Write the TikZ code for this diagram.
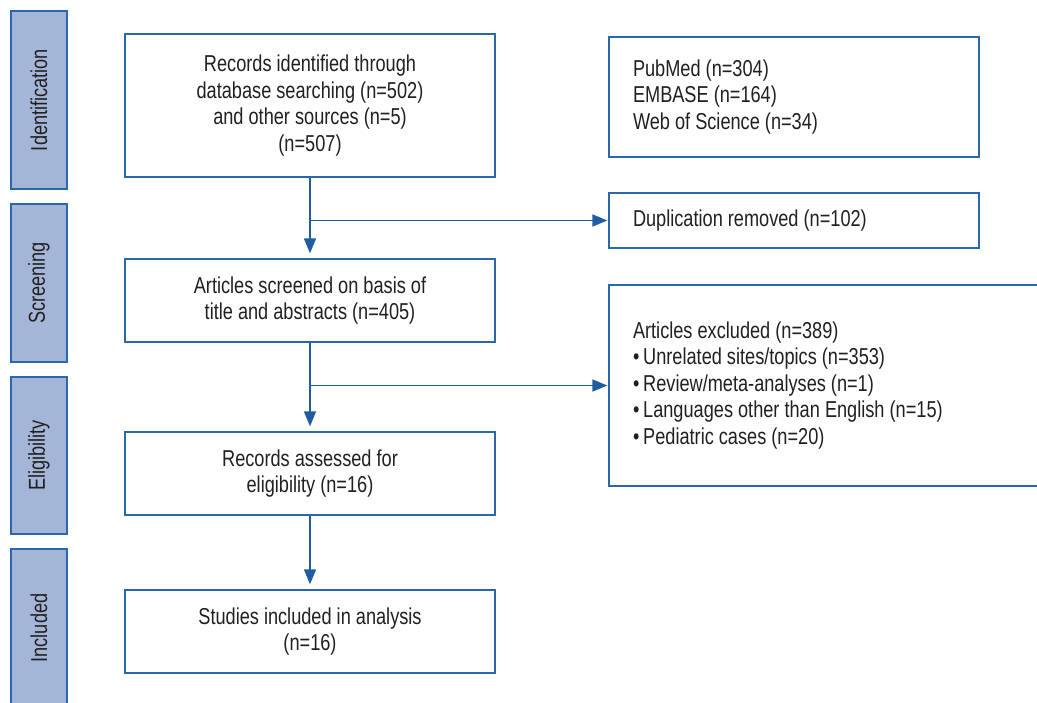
\documentclass[tikz,border=0pt]{standalone}
\usepackage{fontspec}
\setmainfont{Liberation Sans}[FakeStretch=0.79]
\usetikzlibrary{positioning}
\usetikzlibrary{calc}
\usetikzlibrary{arrows.meta}
\definecolor{edge}{RGB}{42,104,172}
\definecolor{bar}{RGB}{164,182,216}
\definecolor{arrowc}{RGB}{32,92,160}
\definecolor{ink}{RGB}{35,31,32}
\tikzset{
    stagebar/.style={draw=edge, fill=bar, line width=1.6pt, minimum width=56pt, inner sep=0pt},
    mainbox/.style={draw=edge, line width=1.3pt, minimum width=370pt, align=center, text=ink, inner sep=0pt},
    sidebox/.style={draw=edge, line width=1.3pt, inner xsep=24pt, inner ysep=0pt, align=flush left, text=ink},
    flow/.style={draw=arrowc, line width=1.5pt, -{Triangle[length=15pt, width=12pt]}}
}
\begin{document}
\begin{tikzpicture}[x=1pt, y=-1pt, font=\fontsize{23}{26.5}\selectfont]
    \useasboundingbox (0,0) rectangle (1037,703);
    \clip (0,0) rectangle (1037,703);

    % Stage bars on the left
    \foreach \name/\top/\bot in {Identification/11/189, Screening/204/362, Eligibility/377/534, Included/549/707} {
        \node[stagebar, minimum height={\bot-\top}] (\name) at (39, {(\top+\bot)/2}) {};
        \node[rotate=90, text=ink] at (\name) {\name};
    }

    % Main column
    \node[mainbox, minimum height=143pt] (found) at (310, 105.5)
        {Records identified through\\database searching (n=502)\\and other sources (n=5)\\(n=507)};
    \node[mainbox, minimum height=83pt] (screen) at (310, 300.5)
        {Articles screened on basis of\\title and abstracts (n=405)};
    \node[mainbox, minimum height=83pt] (assess) at (310, 473.5)
        {Records assessed for\\eligibility (n=16)};
    \node[mainbox, minimum height=83pt] (incl) at (310, 631.5)
        {Studies included in analysis\\(n=16)};

    % Side column
    \node[sidebox, text width=322pt, minimum height=120pt] (sources) at (794, 97)
        {PubMed (n=304)\\EMBASE (n=164)\\Web of Science (n=34)};
    \node[sidebox, text width=322pt, minimum height=55pt] (dup) at (794, 220.5)
        {Duplication removed (n=102)};
    \node[sidebox, text width=422pt, minimum height=201pt] (excl) at (844, 385.5)
        {Articles excluded (n=389)\\•\,Unrelated sites/topics (n=353)\\•\,Review/meta-analyses (n=1)\\•\,Languages other than English (n=15)\\•\,Pediatric cases (n=20)};

    % Flow between boxes
    \draw[flow, shorten >=5pt] (found) -- (screen);
    \draw[flow, shorten >=5pt] (screen) -- (assess);
    \draw[flow, shorten >=5pt] (assess) -- (incl);

    % Branches to the removed records
    \coordinate (split1) at (found.south |- dup.west);
    \coordinate (split2) at (screen.south |- excl.west);
    \draw[flow, shorten >=1pt] (split1) -- (dup.west);
    \draw[flow, shorten >=1pt] (split2) -- (excl.west);
\end{tikzpicture}
\end{document}
